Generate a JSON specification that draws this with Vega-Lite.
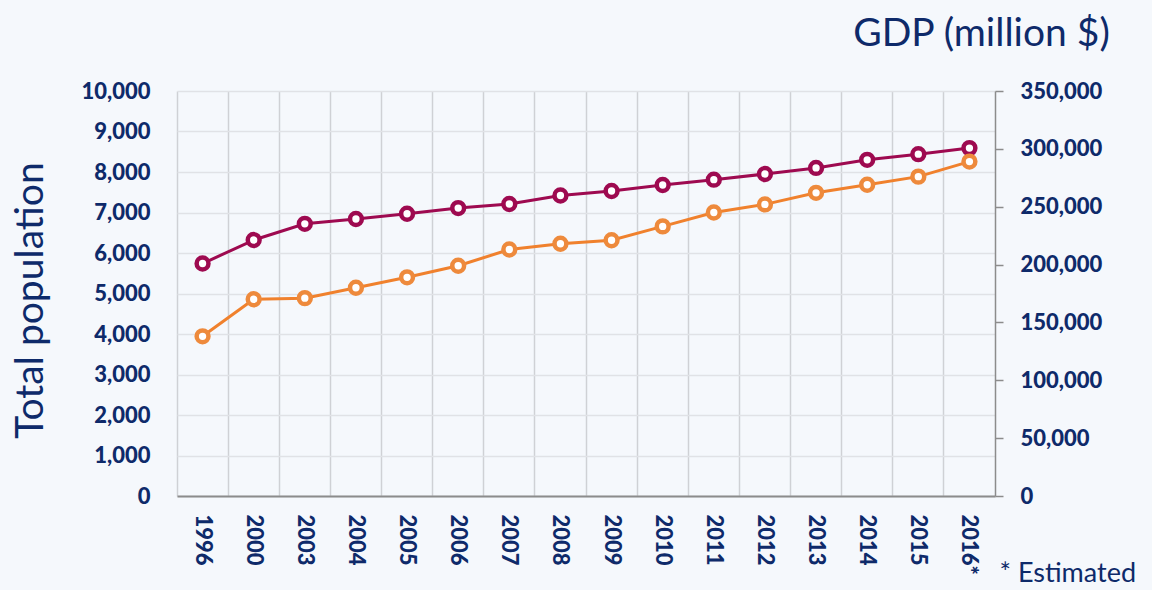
{
  "$schema": "https://vega.github.io/schema/vega-lite/v6.json",
  "autosize": "none",
  "width": 818,
  "height": 405,
  "padding": {"left": 177, "top": 91, "right": 157, "bottom": 94},
  "background": "#F5F8FC",
  "config": {
    "view": {"stroke": null},
    "font": "Lato",
    "axis": {"labelFont": "Lato", "titleFont": "Lato", "labelColor": "#0E2A6A", "titleColor": "#0E2A6A", "labelFontSize": 22, "labelFontWeight": 900}
  },
  "data": {
    "values": [
      {"year": "1996", "population": 5740, "gdp": 138000},
      {"year": "2000", "population": 6320, "gdp": 170000},
      {"year": "2003", "population": 6720, "gdp": 171000},
      {"year": "2004", "population": 6840, "gdp": 180000},
      {"year": "2005", "population": 6970, "gdp": 189000},
      {"year": "2006", "population": 7110, "gdp": 199000},
      {"year": "2007", "population": 7210, "gdp": 213000},
      {"year": "2008", "population": 7420, "gdp": 218000},
      {"year": "2009", "population": 7530, "gdp": 221000},
      {"year": "2010", "population": 7680, "gdp": 233000},
      {"year": "2011", "population": 7810, "gdp": 245000},
      {"year": "2012", "population": 7950, "gdp": 252000},
      {"year": "2013", "population": 8100, "gdp": 262000},
      {"year": "2014", "population": 8300, "gdp": 269000},
      {"year": "2015", "population": 8440, "gdp": 276000},
      {"year": "2016*", "population": 8590, "gdp": 289000}
    ]
  },
  "layer": [
    {
      "encoding": {
        "x": {"field": "year", "type": "nominal", "sort": null,
          "scale": {"type": "band", "paddingInner": 0, "paddingOuter": 0},
          "axis": {"title": "* Estimated", "titleFontSize": 27, "titleFontWeight": "normal", "titleX": 822, "titleY": 85, "titleAlign": "left", "titleBaseline": "alphabetic", "titleAngle": 0,
            "labelAngle": 90, "labelAlign": "left", "labelBaseline": "middle", "labelPadding": 18, "ticks": false, "grid": false,
            "domainColor": "#8C8C8C", "domainWidth": 2}},
        "y": {"field": "population", "type": "quantitative",
          "scale": {"domain": [0, 10000]},
          "axis": {"values": [0,1000,2000,3000,4000,5000,6000,7000,8000,9000,10000], "format": ",.0f", "domain": false, "ticks": false, "labelPadding": 27,
            "grid": true, "gridColor": "#E0E2E6", "gridWidth": 1.5,
            "title": "Total population", "titleFontSize": 39, "titleFontWeight": "normal", "titleAngle": -90, "titleX": -147, "titleY": 209, "titleAlign": "center", "titleBaseline": "middle"}}
      },
      "layer": [
        {"mark": {"type": "line", "color": "#9E0A50", "strokeWidth": 3}},
        {"mark": {"type": "point", "filled": false, "fill": "#FFFFFF", "fillOpacity": 1, "stroke": "#9E0A50", "strokeWidth": 4.5, "size": 140, "opacity": 1}}
      ]
    },
    {
      "encoding": {
        "x": {"field": "year", "type": "nominal", "sort": null,
          "axis": {"title": null, "labels": false, "ticks": false, "domain": false, "grid": true, "bandPosition": 0, "gridColor": "#CFD1D5", "gridWidth": 1.5}},
        "y": {"field": "gdp", "type": "quantitative",
          "scale": {"domain": [0, 350000]},
          "axis": {"orient": "right", "values": [0,50000,100000,150000,200000,250000,300000,350000], "format": ",.0f", "grid": false,
            "domainColor": "#8C8C8C", "domainWidth": 1.5, "tickColor": "#8C8C8C", "tickWidth": 1.5, "tickSize": 8, "labelPadding": 17,
            "title": "GDP (million $)", "titleFontSize": 39, "titleFontWeight": "normal", "titleAngle": 0, "titleX": -14, "titleY": -58, "titleAlign": "center", "titleBaseline": "middle"}}
      },
      "layer": [
        {"mark": {"type": "line", "color": "#F0812D", "strokeWidth": 3}},
        {"mark": {"type": "point", "filled": false, "fill": "#FFFFFF", "fillOpacity": 1, "stroke": "#EE8A3C", "strokeWidth": 4.5, "size": 140, "opacity": 1}}
      ]
    }
  ],
  "resolve": {"scale": {"y": "independent"}, "axis": {"y": "independent", "x": "independent"}}
}
